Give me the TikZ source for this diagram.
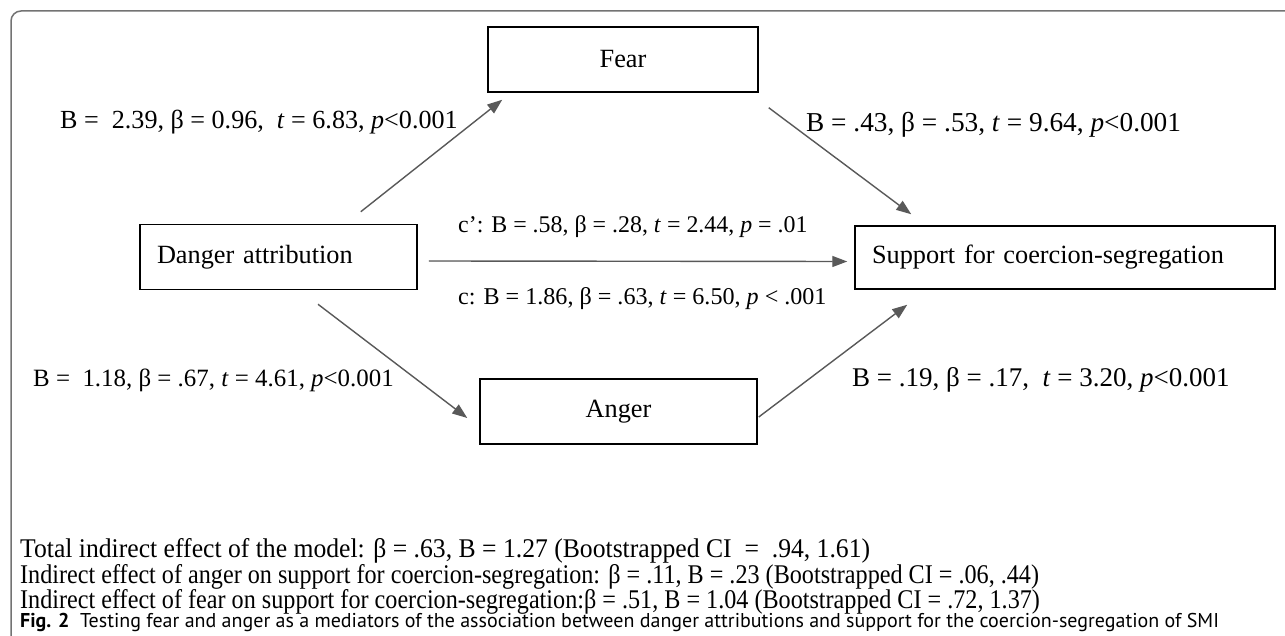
\documentclass[tikz,border=0pt]{standalone}
\usepackage{fontspec}
\setmainfont{Liberation Serif}
\newfontfamily\notefont[FakeStretch=0.895]{Liberation Serif}
\newfontfamily\notewide[FakeStretch=0.95]{Liberation Serif}
\newfontfamily\capfont{PT Sans}
\usetikzlibrary{arrows.meta}
\tikzset{
  box/.style={draw, line width=1.5pt, minimum height=65pt, inner sep=0pt,
              font=\fontsize{26.3}{30}\selectfont},
  leftbox/.style={box, align=left, inner xsep=17pt},
  label/.style={anchor=west, inner sep=0pt, font=\fontsize{#1}{30}\selectfont},
  label/.default=26,
  note/.style={anchor=west, inner sep=0pt, font=\notefont\fontsize{27}{28}\selectfont},
  arrow/.style={-{Triangle[length=15pt,width=11pt]}, line width=1.4pt,
                draw=black!65, fill=black!65}
}
\begin{document}
\begin{tikzpicture}[x=1pt,y=-1pt]
  \useasboundingbox (0,0) rectangle (1285,636);
  % frame
  \draw[black!55, line width=1.5pt] (11,640) -- (11,21) arc[start angle=180, end angle=270, radius=10] -- (1290,11);

  \node[leftbox, text width=243pt] (danger) at (278.5,257) {Danger attribution};
  \node[box, minimum width=270pt] (fear) at (623,59.5) {Fear};
  \node[box, minimum width=277pt] (anger) at (618.5,411.5) {Anger};
  \node[leftbox, text width=386pt, minimum height=63pt] (support) at (1065,257.5)
    {Support for coercion-segregation};

  \draw[arrow] ([xshift=-57pt,yshift=12pt]danger.north east) -- ([xshift=15pt,yshift=-7pt]fear.south west);
  \draw[arrow] ([xshift=10pt,yshift=-15pt]fear.south east) -- ([xshift=57pt,yshift=11pt]support.north west);
  \draw[arrow] ([xshift=11pt,yshift=-4pt]danger.east) -- ([xshift=-7pt,yshift=-4pt]support.west);
  \draw[arrow] ([xshift=39.5pt,yshift=-14pt]danger.south) -- ([xshift=-12pt,yshift=-6.5pt]anger.west);
  \draw[arrow] ([xshift=1pt,yshift=-5.5pt]anger.east) -- ([xshift=53pt,yshift=-15pt]support.south west);

  \node[label=26.1] (afear) at (60,122) {B =\ \ 2.39, β = 0.96,\ \ \textit{t} = 6.83, \textit{p}<0.001};
  \node[label=27.3] (bfear) at (806,125) {B = .43, β = .53, \textit{t} = 9.64, \textit{p}<0.001};
  \node[label=23.9] (cprime) at (458,227) {c’: B = .58, β = .28, \textit{t} = 2.44, \textit{p} = .01};
  \node[label=24.1] (ctotal) at (458,299) {c: B = 1.86, β = .63, \textit{t} = 6.50, \textit{p} < .001};
  \node[label=24.9] (aanger) at (33,380) {B =\ \ 1.18, β = .67, \textit{t} = 4.61, \textit{p}<0.001};
  \node[label=27] (banger) at (852,380) {B = .19, β = .17,\ \ \textit{t} = 3.20, \textit{p}<0.001};

  \node[note, font=\notewide\fontsize{27}{28}\selectfont] (total) at (20,551)
    {Total indirect effect of the model: β = .63, B = 1.27 (Bootstrapped CI\ \ =\ \ .94, 1.61)};
  \node[note] (indanger) at (20,577) {Indirect effect of anger on support for coercion-segregation: β = .11, B = .23 (Bootstrapped CI = .06, .44)};
  \node[note] (indfear) at (20,602) {Indirect effect of fear on support for coercion-segregation:β = .51, B = 1.04 (Bootstrapped CI = .72, 1.37)};
  \node[anchor=west, inner sep=0pt, font=\capfont\fontsize{20}{22}\selectfont] (caption) at (20,622)
    {\textbf{Fig. 2}\ \ Testing fear and anger as a mediators of the association between danger attributions and support for the coercion-segregation of SMI};
\end{tikzpicture}
\end{document}
